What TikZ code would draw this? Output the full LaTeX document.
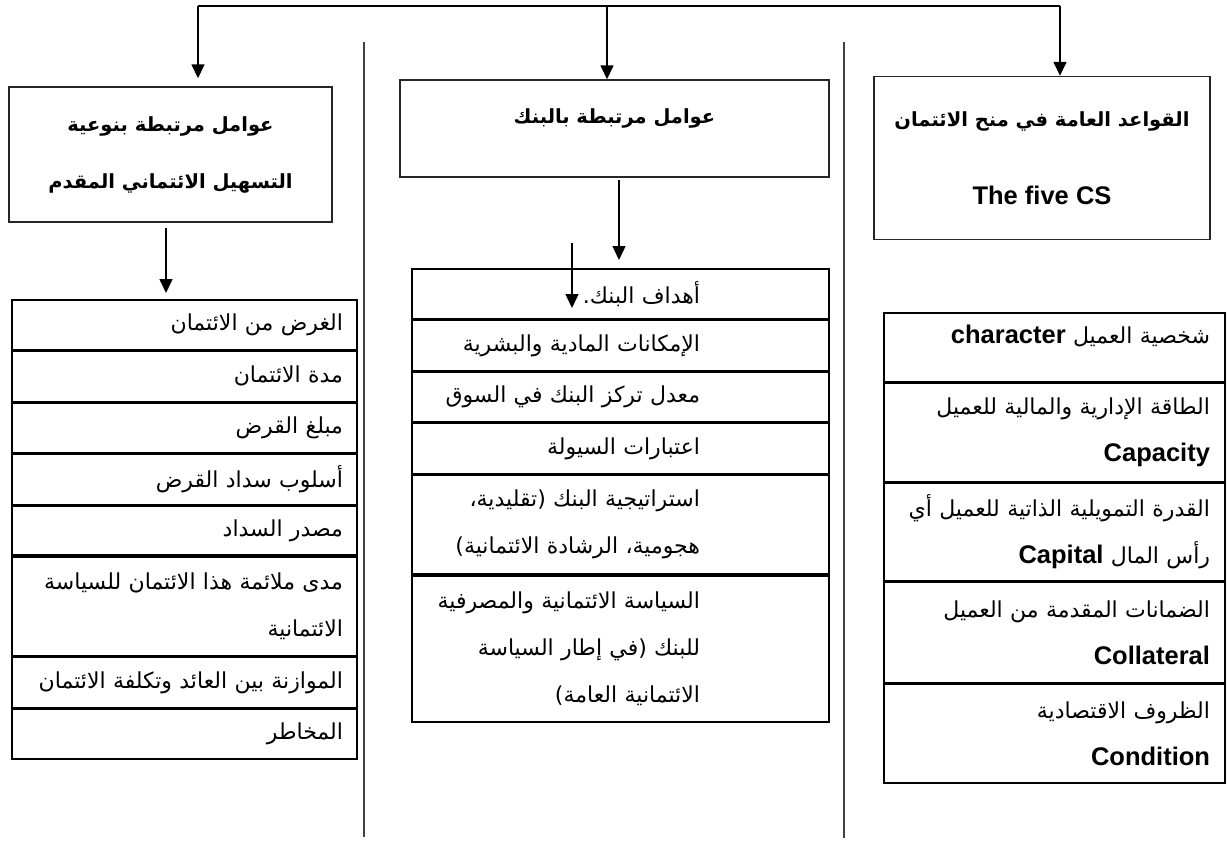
\documentclass[tikz,border=0pt]{standalone}
\usepackage{fontspec}
\usetikzlibrary{arrows.meta}
\TeXXeTstate=1
\newfontfamily\arabicfont[Script=Arabic]{DejaVu Sans}
\newfontfamily\latinfont{Liberation Sans}
\newcommand{\ar}[1]{\beginR#1\endR}
\newcommand{\en}[1]{\beginL{\latinfont\bfseries\fontsize{25.5}{47}\selectfont #1}\endL}
\newcommand{\mr}[1]{\beginR#1\endR\kern127pt}

\begin{document}
\begin{tikzpicture}[%
x=1pt, y=-1pt,
headbox/.style={draw=black!85, line width=1.4pt, inner sep=0pt, align=center,
  font=\arabicfont\bfseries\fontsize{19.5}{57}\selectfont},
lrow/.style={draw, line width=1.6pt, anchor=north, inner xsep=14pt, inner ysep=0pt,
  minimum width=345pt, text width=317pt, align=right, font=\arabicfont\fontsize{22}{47}\selectfont},
mrow/.style={lrow, inner xsep=2pt, minimum width=417pt, text width=413pt},
rrow/.style={lrow, inner xsep=15pt, minimum width=341pt, text width=311pt},
link/.style={line width=1.5pt, -{Triangle[width=13pt,length=14pt]}},
sep/.style={line width=1.3pt, black!75},
]
\useasboundingbox (0,0) rectangle (1227,849);
%% separators;
\draw[sep] (364,42) -- (364,837);
\draw[sep] (844,42) -- (844,838);
%% head boxes;
\node[headbox, minimum width=323pt, minimum height=135pt] (lbox) at (170.5,154.5)
  {\ar{عوامل مرتبطة بنوعية}\\\ar{التسهيل الائتماني المقدم}};
\node[headbox, minimum width=429pt, minimum height=97pt, text height=14pt, text depth=24pt] (mbox) at (614.5,128.5)
  {\ar{عوامل مرتبطة بالبنك}};
\node[headbox, minimum width=336pt, minimum height=163pt] (rbox) at (1042,158)
  {\ar{القواعد العامة في منح الائتمان}\\[21pt]\en{The five CS}};
%% top line;
\coordinate (tl) at (198,6);
\coordinate (tm) at (607,6);
\coordinate (tr) at (1060,6);
\draw[line width=1.5pt] (tl) -- (tr);
\draw[link, shorten >=8pt] (tl) -- (tl |- lbox.north);
\draw[link] (tm) -- (tm |- mbox.north);
\draw[link] (tr) -- (tr |- rbox.north);
%% left list;
\node[lrow, minimum height=50pt] (l1) at (184.5,299) {\ar{الغرض من الائتمان}};
\node[lrow, minimum height=50pt] (l2) at (l1.south) {\ar{مدة الائتمان}};
\node[lrow, minimum height=50pt] (l3) at (l2.south) {\ar{مبلغ القرض}};
\node[lrow, minimum height=50pt] (l4) at (l3.south) {\ar{أسلوب سداد القرض}};
\node[lrow, minimum height=49pt] (l5) at (l4.south) {\ar{مصدر السداد}};
\node[lrow, minimum height=99pt] (l6) at (l5.south) {\ar{مدى ملائمة هذا الائتمان للسياسة}\\\ar{الائتمانية}};
\node[lrow, minimum height=50pt] (l7) at (l6.south) {\ar{الموازنة بين العائد وتكلفة الائتمان}};
\node[lrow, minimum height=50pt] (l8) at (l7.south) {\ar{المخاطر}};
%% middle list;
\node[mrow, minimum height=50pt] (m1) at (620.5,268) {\mr{أهداف البنك.}};
\node[mrow, minimum height=50pt] (m2) at (m1.south) {\mr{الإمكانات المادية والبشرية}};
\node[mrow, minimum height=50pt] (m3) at (m2.south) {\mr{معدل تركز البنك في السوق}};
\node[mrow, minimum height=50pt] (m4) at (m3.south) {\mr{اعتبارات السيولة}};
\node[mrow, minimum height=99pt] (m5) at (m4.south) {\mr{استراتيجية البنك (تقليدية،}\\\mr{هجومية، الرشادة الائتمانية)}};
\node[mrow, minimum height=146pt] (m6) at (m5.south) {\mr{السياسة الائتمانية والمصرفية}\\\mr{للبنك (في إطار السياسة}\\\mr{الائتمانية العامة)}};
%% right list;
\node[rrow, minimum height=69pt, text height=15pt, text depth=22pt] (r1) at (1054.5,312) {\ar{شخصية العميل \en{character}}};
\node[rrow, minimum height=98pt] (r2) at (r1.south) {\ar{الطاقة الإدارية والمالية للعميل}\\\en{Capacity}};
\node[rrow, minimum height=98pt] (r3) at (r2.south) {\ar{القدرة التمويلية الذاتية للعميل أي}\\\ar{رأس المال \en{Capital}}};
\node[rrow, minimum height=100pt] (r4) at (r3.south) {\ar{الضمانات المقدمة من العميل}\\\en{Collateral}};
\node[rrow, minimum height=99pt] (r5) at (r4.south) {\ar{الظروف الاقتصادية}\\\en{Condition}};
%% arrows down;
\coordinate (ldown) at (166,222);
\coordinate (mdown) at (619,177);
\draw[link, shorten <=6pt, shorten >=6pt] (ldown) -- (ldown |- l1.north);
\draw[link, shorten <=3pt, shorten >=8pt] (mdown) -- (mdown |- m1.north);
\coordinate (xa) at (572,243);
\coordinate (xb) at (572,308);
\draw[link] (xa) -- (xb);
\end{tikzpicture}
\end{document}
